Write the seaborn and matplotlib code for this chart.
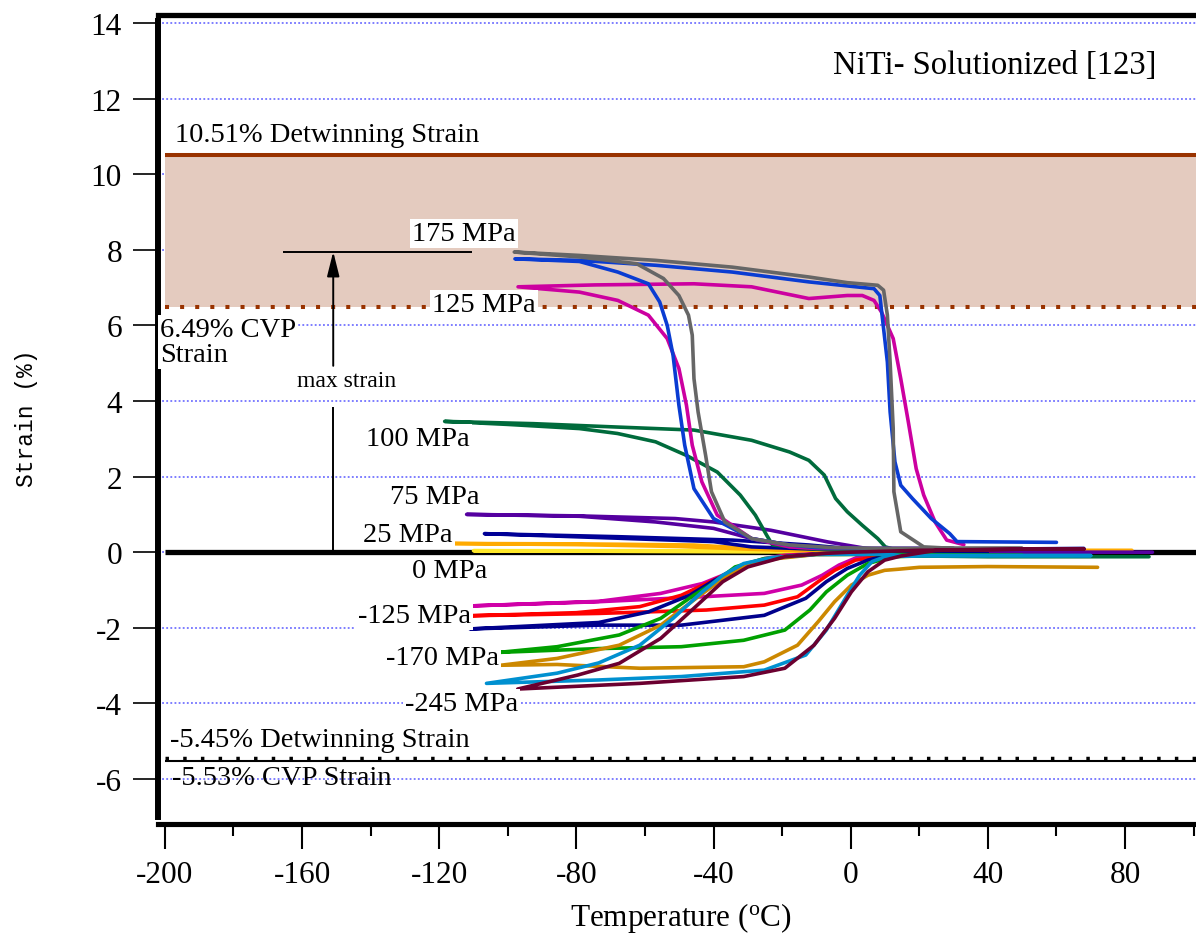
import matplotlib
matplotlib.use("Agg")
import matplotlib.pyplot as plt
import pandas as pd
import seaborn as sns

# ------------------------------------------------------------------ data
x_major = [-200, -160, -120, -80, -40, 0, 40, 80]
x_minor = [-180, -140, -100, -60, -20, 20, 60, 100]
y_major = [-6, -4, -2, 0, 2, 4, 6, 8, 10, 12, 14]

detwin_pos = 10.51
cvp_pos = 6.49
detwin_neg = -5.45
cvp_neg = -5.53
max_strain = 7.95

# tension curves (temperature degC, strain %)
t175_T = [50, 30, 10, -5, -17.8, -28.9, -36.7, -40.6, -42.3, -44.5, -45.7, -46.2, -47.3, -50.1, -54.6, -62.4, -79.1, -98.1,
          -79.1, -56.9, -34.5, -12.2, -1, 7.9, 9.6, 10.7, 11.5, 12.4, 12.6, 14.6, 21.3, 30, 50]
t175_S = [0.1, 0.1, 0.1, 0.12, 0.19, 0.36, 0.8, 1.6, 2.56, 3.71, 4.59, 5.74, 6.27, 6.79, 7.24, 7.63, 7.81, 7.94,
          7.85, 7.72, 7.54, 7.28, 7.13, 7.06, 6.93, 6.27, 5.03, 3.27, 1.6, 0.54, 0.14, 0.1, 0.1]

t150_T = [30, 5, -10, -17.8, -28.9, -40, -45.7, -48.4, -50.1, -51.8, -53.5, -55.7, -59, -67.9, -79.1, -97.9,
          -79.1, -56.9, -34.5, -12.2, 6.8, 8.5, 9.6, 10.7, 11.5, 12.9, 14.6, 18, 23.5, 28.9, 31, 60]
t150_S = [0.1, 0.1, 0.12, 0.19, 0.36, 0.89, 1.68, 2.83, 3.89, 5.21, 6.0, 6.62, 7.1, 7.41, 7.69, 7.76,
          7.72, 7.59, 7.41, 7.15, 6.97, 6.79, 5.91, 5.03, 3.71, 2.39, 1.77, 1.42, 0.89, 0.49, 0.28, 0.26]

t125_T = [30, 5, -10, -17.8, -28.9, -38.9, -43.4, -46.2, -47.9, -50.1, -53.5, -59, -67.9, -79.1, -97,
          -74.6, -45.7, -28.9, -12.2, -1, 3.4, 6.8, 9, 12.4, 14.6, 16.8, 19.1, 21.3, 24.6, 28, 33]
t125_S = [0.1, 0.1, 0.1, 0.14, 0.36, 0.98, 1.86, 2.83, 3.89, 4.86, 5.65, 6.27, 6.66, 6.88, 7.02,
          7.07, 7.1, 7.02, 6.71, 6.79, 6.79, 6.66, 6.35, 5.65, 4.59, 3.45, 2.21, 1.51, 0.8, 0.32, 0.2]

t100_T = [87, 40, 20, 5, -10, -22.8, -24.5, -27.8, -32.2, -38.9, -47.9, -56.9, -68, -79.1, -100, -118.4,
          -92.5, -68, -45.7, -28.9, -17.8, -12.2, -7.7, -4.4, -1, 3.4, 7.9, 10.1, 15, 22]
t100_S = [-0.12, -0.12, -0.1, 0.0, 0.08, 0.19, 0.45, 0.98, 1.51, 2.12, 2.56, 2.92, 3.14, 3.27, 3.38, 3.46,
          3.4, 3.31, 3.23, 2.96, 2.65, 2.43, 2.04, 1.42, 1.07, 0.71, 0.36, 0.14, 0.02, -0.1]

t75_T = [88, 60, 30, 10, -5, -17.8, -28.9, -40, -56.9, -79.1, -112, -79.1, -51.2, -40, -23.3, -6.6, 4.5, 15, 30]
t75_S = [0.0, 0.0, 0.02, 0.05, 0.1, 0.19, 0.36, 0.63, 0.8, 0.95, 1.0, 0.96, 0.89, 0.8, 0.58, 0.27, 0.1, 0.03, 0.02]

t50_T = [68, 40, 10, -10, -28.9, -40, -67.9, -106.8, -67.9, -34.5, -12.2, -1, 10, 30]
t50_S = [0.1, 0.08, 0.06, 0.08, 0.14, 0.28, 0.37, 0.49, 0.41, 0.32, 0.19, 0.1, 0.06, 0.06]

t25_T = [82, 50, 20, 0, -17.8, -28.9, -45.7, -79.1, -115.7, -80, -50, -30, -15, 0]
t25_S = [0.05, 0.05, 0.04, 0.03, 0.06, 0.1, 0.19, 0.22, 0.23, 0.2, 0.15, 0.08, 0.04, 0.03]

t0_T = [80, 40, 0, -30, -60, -110, -60, -30, 0]
t0_S = [0.02, 0.02, 0.02, 0.04, 0.04, 0.04, 0.02, 0.01, 0.0]

# compression curves
c125_T = [40, 10, -10, -19.2, -25.2, -31.2, -37.3, -43.3, -55.4, -73.5, -110.4,
          -73.5, -43.3, -25.2, -14.3, -8.3, -3.4, 2.6, 10, 25]
c125_S = [-0.02, -0.02, -0.04, -0.08, -0.17, -0.34, -0.61, -0.83, -1.09, -1.3, -1.42,
          -1.31, -1.18, -1.09, -0.87, -0.61, -0.34, -0.11, -0.03, -0.02]

c140_T = [40, 10, -10, -19.2, -27.6, -34.9, -41, -49.4, -61.5, -80, -110.4,
          -73.5, -42.1, -25.2, -15.5, -9.5, -4.7, 1.4, 8.7, 25]
c140_S = [-0.03, -0.03, -0.05, -0.1, -0.25, -0.52, -0.78, -1.14, -1.44, -1.6, -1.68,
          -1.62, -1.53, -1.4, -1.18, -0.78, -0.48, -0.21, -0.1, -0.03]

c150_T = [40, 10, -10, -17.9, -25.2, -32.4, -39.7, -47, -59, -73.5, -111,
          -73.5, -49.4, -25.2, -13.1, -7.1, -1, 5, 9.9, 25]
c150_S = [-0.03, -0.03, -0.05, -0.1, -0.21, -0.43, -0.74, -1.14, -1.58, -1.86, -2.03,
          -1.93, -1.93, -1.67, -1.22, -0.78, -0.43, -0.21, -0.1, -0.03]

c170_T = [50, 15, -10, -25.2, -33.7, -39.7, -45.8, -55.4, -67.5, -85.6, -102.5,
          -73.5, -49.4, -31.2, -19.2, -11.9, -7.1, -1, 5, 12.3, 20, 65]
c170_S = [-0.08, -0.06, -0.06, -0.17, -0.39, -0.8, -1.14, -1.75, -2.19, -2.5, -2.65,
          -2.55, -2.5, -2.33, -2.06, -1.53, -1.05, -0.61, -0.3, -0.12, -0.1, -0.1]

c200_T = [10, -10, -21.6, -30, -37.3, -45.8, -55.4, -67.5, -85.6, -102,
          -85.6, -61.5, -31.2, -25.2, -15.5, -9.5, -4.7, 0.2, 5, 9.9, 14, 20, 40, 72]
c200_S = [-0.05, -0.06, -0.17, -0.34, -0.7, -1.27, -1.93, -2.46, -2.81, -2.99,
          -2.97, -3.07, -3.03, -2.9, -2.46, -1.84, -1.31, -0.87, -0.61, -0.48, -0.45, -0.4, -0.38, -0.4]

c225_T = [70, 40, 15, 10, -10, -22.8, -31.2, -37.3, -43.3, -51.8, -61.5, -73.5, -85.6, -106.2,
          -73.5, -49.4, -25.2, -13.1, -7.1, -1, 2.6, 6.2, 10, 20, 70]
c225_S = [-0.09, -0.09, -0.09, -0.05, -0.06, -0.14, -0.3, -0.61, -1.05, -1.75, -2.46, -2.93, -3.2, -3.47,
          -3.38, -3.29, -3.12, -2.72, -2.06, -1.14, -0.61, -0.25, -0.12, -0.09, -0.09]

c245_T = [68, 50, 20, 0, -7.1, -19.2, -30, -37.3, -45.8, -55.4, -67.5, -79.6, -97.1,
          -61.5, -31.2, -19.2, -10.7, -4.7, 0.2, 5, 9.9, 14.7, 25, 50, 68]
c245_S = [0.08, 0.08, 0.05, 0.0, -0.03, -0.12, -0.39, -0.78, -1.49, -2.28, -2.94, -3.25, -3.62,
          -3.47, -3.29, -3.07, -2.46, -1.75, -1.05, -0.52, -0.21, -0.1, 0.05, 0.08, 0.08]

curve_names = ["0", "25", "50", "75", "100", "125", "150", "175",
               "-125", "-140", "-150", "-170", "-200", "-225", "-245"]
curve_T = [t0_T, t25_T, t50_T, t75_T, t100_T, t125_T, t150_T, t175_T,
           c125_T, c140_T, c150_T, c170_T, c200_T, c225_T, c245_T]
curve_S = [t0_S, t25_S, t50_S, t75_S, t100_S, t125_S, t150_S, t175_S,
           c125_S, c140_S, c150_S, c170_S, c200_S, c225_S, c245_S]

# ------------------------------------------------------------------ styles
curve_colors = {
    "0": "#ffe82a", "25": "#ffaa00", "50": "#000096", "75": "#5500a0",
    "100": "#006b3c", "125": "#cc00a0", "150": "#0a3cd2", "175": "#666666",
    "-125": "#d000a8", "-140": "#ff0000", "-150": "#00008c", "-170": "#00a000",
    "-200": "#cc8800", "-225": "#0090d0", "-245": "#6b0030",
}

rows = []
for name, T, S in zip(curve_names, curve_T, curve_S):
    for i, (t, s) in enumerate(zip(T, S)):
        rows.append({"curve": name, "idx": i, "T": t, "S": s})
df = pd.DataFrame(rows)

sns.set_theme(style="white")
plt.rcParams["font.family"] = ["Liberation Serif", "DejaVu Serif"]
plt.rcParams["mathtext.fontset"] = "custom"
plt.rcParams["mathtext.rm"] = "Liberation Serif"
plt.rcParams["mathtext.it"] = "Liberation Serif:italic"
plt.rcParams["text.color"] = "black"
plt.rcParams["xtick.color"] = "black"
plt.rcParams["ytick.color"] = "black"
plt.rcParams["axes.labelcolor"] = "black"

fig = plt.figure(figsize=(11.96, 9.37), dpi=100)
ax = fig.add_axes([158 / 1196, (937 - 825) / 937, 1038 / 1196, 809 / 937])
XMAX = 100.7
ax.set_xlim(-202.0, XMAX)
ax.set_ylim(-7.19, 14.21)

# grid
ax.set_yticks(y_major)
ax.yaxis.grid(True, color="#5a5aff", lw=1.1, linestyle=(0, (1.2, 1.5)), zorder=0)
ax.xaxis.grid(False)
ax.set_axisbelow(True)

# shaded region and reference lines
ax.fill_between([-200, XMAX], cvp_pos, detwin_pos, color="#e4cbbf", lw=0, zorder=1)
ax.hlines(detwin_pos, -200, XMAX, color="#993300", lw=2.9, zorder=2)
ax.hlines(cvp_pos, -200, XMAX, color="#993300", lw=2.9, linestyles=[(0, (1, 2.75))], zorder=2)
ax.hlines(detwin_neg, -200, XMAX, color="black", lw=2.5, linestyles=[(0, (1, 4.1))], zorder=2)
ax.hlines(cvp_neg, -200, XMAX, color="black", lw=1.5, zorder=2)
ax.hlines(0, -200, XMAX, color="black", lw=3.8, zorder=2.5)

# curves
sns.lineplot(data=df, x="T", y="S", hue="curve", hue_order=curve_names,
             palette=curve_colors, sort=False, estimator=None, legend=False,
             lw=2.6, ax=ax, zorder=3)

# max strain marker
ax.hlines(max_strain, -165.5, -110.4, color="black", lw=1.4, zorder=3)
ax.vlines(-150.9, 0, 3.85, color="black", lw=1.4, zorder=3)
ax.annotate("", xy=(-150.9, max_strain), xytext=(-150.9, 4.93),
            arrowprops=dict(arrowstyle="-|>,head_length=0.6,head_width=0.15",
                            lw=1.4, color="black", mutation_scale=25,
                            shrinkA=0, shrinkB=0), zorder=3)
ax.text(-147.1, 4.55, "max strain", size=17, ha="center", va="center", zorder=5)

# labels
box = dict(fc="white", ec="none", pad=1.5)
lab_fs = 20.5
ax.text(-5.2, 12.89, "NiTi- Solutionized [123]", size=23.5, ha="left", va="center", zorder=5)
ax.text(-197.0, 11.06, "10.51% Detwinning Strain", size=lab_fs, ha="left", va="center", zorder=5)
ax.text(-201.4, 6.22, "6.49% CVP\nStrain", size=lab_fs, ha="left", va="top",
        linespacing=1.0, bbox=box, zorder=5)
for txt, x, y in [("175 MPa", -127.9, 8.42), ("125 MPa", -122.1, 6.54),
                  ("100 MPa", -141.3, 3.02), ("75 MPa", -134.3, 1.46),
                  ("25 MPa", -142.2, 0.46), ("0 MPa", -127.9, -0.49),
                  ("-125 MPa", -143.7, -1.67), ("-170 MPa", -135.6, -2.78),
                  ("-245 MPa", -130.1, -3.99)]:
    ax.text(x, y, txt, size=lab_fs, ha="left", va="center", bbox=box, zorder=5)
ax.text(-198.5, -4.96, "-5.45% Detwinning Strain", size=lab_fs, ha="left", va="center", zorder=5)
ax.text(-197.9, -5.97, "-5.53% CVP Strain", size=lab_fs, ha="left", va="center", zorder=5)

# axes / ticks
ax.set_xticks(x_major)
ax.set_xticks(x_minor, minor=True)
ax.set_xticklabels([str(v) for v in x_major])
ax.set_yticklabels([str(v) for v in y_major])
ax.tick_params(axis="x", which="major", length=18, width=1.5, direction="out",
               labelsize=22.5, pad=8, colors="black", bottom=True)
ax.tick_params(axis="x", which="minor", length=8.5, width=1.5, direction="out",
               bottom=True, colors="black")
ax.tick_params(axis="y", which="major", length=18, width=1.2, direction="out",
               labelsize=22.5, pad=8, colors="black", left=True)
ax.set_xlabel("")
ax.set_ylabel("")

for side in ["top", "bottom", "left"]:
    ax.spines[side].set_color("black")
ax.spines["right"].set_visible(False)
ax.spines["top"].set_linewidth(3.8)
ax.spines["bottom"].set_linewidth(3.7)
ax.spines["left"].set_linewidth(4.3)
ax.spines["left"].set_bounds(-7.0, 14.04)

fig.text(681 / 1196, 1 - 926 / 937, r"Temperature ($^{\mathrm{o}}$C)", size=22.5,
         ha="center", va="baseline", color="black")
fig.text(27 / 1196, 1 - 418 / 937, "Strain (%)", rotation=90, size=16.5,
         family="Liberation Mono", ha="center", va="center", color="black")

fig.savefig("out.png", dpi=100)
